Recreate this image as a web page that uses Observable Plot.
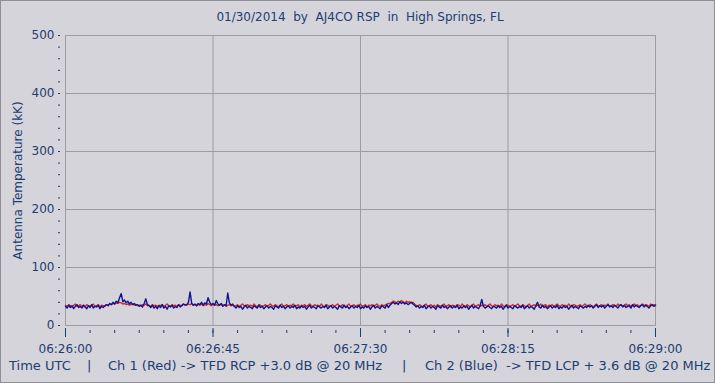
<!DOCTYPE html>
<html>
<head>
<meta charset="utf-8">
<script src="https://cdn.jsdelivr.net/npm/d3@7"></script>
<script src="https://cdn.jsdelivr.net/npm/@observablehq/plot@0.6"></script>
<style>
  html, body { margin: 0; padding: 0; background: #d4d4da; }
  #chart { position: relative; width: 715px; height: 383px; background: #d4d4da; overflow: hidden;
           font-family: "DejaVu Sans", sans-serif; color: #1e3d73; }
  #frame { position: absolute; left: 0; top: 0; width: 713px; height: 381px; border: 1px solid #8e8e94; pointer-events: none; }
  #title { position: absolute; left: 65px; width: 590px; top: 10px; text-align: center; font-size: 12px; white-space: pre; }
  #plot { position: absolute; left: 0; top: 24px; }
  .cap { position: absolute; top: 359px; font-size: 13px; line-height: 13px; white-space: pre; }
</style>
</head>
<body>
<div id="chart">
  <div id="title"></div>
  <div id="plot"></div>
  <div id="caption"></div>
  <div id="frame"></div>
</div>
<script>
const titleText = "01/30/2014  by  AJ4CO RSP  in  High Springs, FL";
const yLabel = "Antenna Temperature (kK)";
const captionParts = [
  {text: "Time UTC", left: 9},
  {text: "|", left: 87},
  {text: "Ch 1 (Red) -> TFD RCP +3.0 dB @ 20 MHz", left: 108},
  {text: "|", left: 402},
  {text: "Ch 2 (Blue)  -> TFD LCP + 3.6 dB @ 20 MHz", left: 425}
];

const startTime = "2014-01-30T06:26:00Z";
const endTime = "2014-01-30T06:29:00Z";
const sampleStepSeconds = 0.5;
const xTickLabels = ["06:26:00", "06:26:45", "06:27:30", "06:28:15", "06:29:00"];
const xMinorSeconds = [0, 7.5, 15, 22.5, 30, 37.5, 45, 52.5, 60, 67.5, 75, 82.5, 90, 97.5, 105, 112.5, 120, 127.5, 135, 142.5, 150, 157.5, 165, 172.5, 180];
const yTicks = [0, 100, 200, 300, 400, 500];
const yMinor = [0, 20, 40, 60, 80, 100, 120, 140, 160, 180, 200, 220, 240, 260, 280, 300, 320, 340, 360, 380, 400, 420, 440, 460, 480, 500];
const yGrid = [100, 200, 300, 400];

// two samples per second, 06:26:00 .. 06:29:00
const ch1Red = [
  35,33,36,34,32,35,37,33,34,36,33,35,32,36,34,33,35,37,33,34,36,32,35,34,33,36,
  35,37,36,38,37,39,38,40,39,37,38,36,37,35,36,37,35,36,34,35,
  34,36,35,37,34,35,33,36,34,35,
  33,35,34,36,33,35,37,34,33,36,34,35,33,36,34,35,37,36,
  35,37,36,38,35,36,
  34,36,35,37,34,36,35,38,36,34,37,35,36,34,35,37,34,36,33,35,36,34,35,33,
  34,36,33,35,37,34,33,36,34,35,33,37,34,32,36,35,33,34,36,33,
  35,37,34,33,36,34,32,35,37,33,34,36,33,35,34,37,33,34,36,32,
  35,34,36,33,35,37,34,33,36,34,35,33,37,34,32,36,35,33,34,36,
  33,35,37,34,33,36,34,32,35,37,33,34,36,33,35,34,37,33,34,36,
  32,35,34,36,33,35,37,34,33,36,34,35,37,38,
  38,40,42,41,39,42,40,43,41,39,42,40,41,39,40,37,
  35,33,36,34,32,35,37,33,34,36,33,35,32,36,34,33,35,37,33,34,
  36,32,35,34,33,36,35,33,37,34,33,36,34,32,35,37,33,34,36,33,
  35,
  34,36,33,35,37,34,33,36,34,35,33,37,34,32,36,35,33,34,36,33,35,37,34,33,36,34,32,35,37,33,34,36,33,
  35,
  34,37,33,35,36,32,35,34,36,33,35,37,34,33,36,34,35,33,37,34,
  32,36,35,33,34,36,33,35,37,34,33,36,34,32,35,37,33,34,36,33,
  35,34,37,33,34,36,35,33,37,34,36,33,35,37,34,36,33,35,37,34,
  36,33,35,37,34,36,35,33,37,34,36,35
];
const ch2Blue = [
  33,30,35,31,34,29,33,36,31,33,30,35,32,29,34,31,36,30,33,32,35,29,33,31,34,36,
  34,38,36,40,37,42,39,48,55,41,44,39,42,37,40,36,38,35,36,33,
  35,32,38,46,36,34,31,35,30,33,
  29,34,31,36,30,33,28,34,32,35,30,33,31,36,32,34,37,35,
  36,40,58,38,35,37,
  34,38,36,40,35,39,37,48,40,36,38,35,43,37,35,38,33,36,34,56,39,35,37,33,
  30,34,31,33,28,32,35,30,33,31,29,34,32,30,35,31,33,29,32,34,
  30,33,31,28,34,32,30,35,31,33,29,32,34,30,33,31,35,29,32,30,
  34,31,33,28,32,35,30,33,31,29,34,32,30,33,31,35,29,32,34,30,
  33,31,28,34,32,30,35,31,33,29,32,34,30,33,31,35,29,32,30,34,
  31,33,28,32,35,30,33,31,29,34,32,30,36,31,
  35,38,40,37,39,36,41,38,40,37,39,36,38,40,37,35,
  32,34,30,33,31,35,29,32,34,30,33,31,28,34,32,30,35,31,33,29,
  32,34,30,33,31,35,29,32,30,34,31,33,28,32,35,30,33,31,29,34,
  45,
  33,30,32,34,31,29,33,32,30,34,31,33,28,32,35,30,33,31,29,34,32,30,33,31,35,29,32,34,30,33,31,28,34,
  40,
  32,30,35,31,33,29,32,34,30,33,31,35,29,32,30,34,31,33,28,32,
  35,30,33,31,29,34,32,30,33,31,35,32,34,30,33,36,31,34,32,35,
  30,33,36,32,34,31,35,33,30,34,36,32,35,31,33,34,30,36,32,35,
  33,31,34,36,32,35,33,30,34,36,33,35
];

const t0 = new Date(startTime);
const toDate = s => new Date(+t0 + s * 1000);
const parseTick = d3.utcParse("%Y-%m-%d %H:%M:%S");
const xTicks = xTickLabels.map(l => parseTick("2014-01-30 " + l));
const xMinor = xMinorSeconds.map(toDate);
const red = ch1Red.map((v, i) => ({t: toDate(i * sampleStepSeconds), v}));
const blue = ch2Blue.map((v, i) => ({t: toDate(i * sampleStepSeconds), v}));

const navy = "#1e3d73";
const gridColor = "#9c9ca2";

document.getElementById("title").textContent = titleText;
const cap = document.getElementById("caption");
for (const p of captionParts) {
  const s = document.createElement("div");
  s.className = "cap";
  s.style.left = p.left + "px";
  s.textContent = p.text;
  cap.appendChild(s);
}

const chart = Plot.plot({
  width: 715,
  height: 334,
  marginLeft: 65,
  marginRight: 60,
  marginTop: 11,
  marginBottom: 33,
  style: {background: "transparent", fontFamily: "DejaVu Sans, sans-serif", fontSize: "12px", color: navy, overflow: "visible"},
  x: {type: "utc", domain: [new Date(startTime), new Date(endTime)]},
  y: {domain: [0, 500]},
  marks: [
    Plot.ruleX(xTicks.slice(1, -1), {stroke: gridColor, strokeWidth: 1}),
    Plot.ruleY(yGrid, {stroke: gridColor, strokeWidth: 1}),
    Plot.frame({stroke: gridColor, strokeWidth: 1}),
    Plot.line(red, {x: "t", y: "v", stroke: "#d42a2a", strokeWidth: 1.4}),
    Plot.line(blue, {x: "t", y: "v", stroke: "#12128c", strokeWidth: 1.4}),
    Plot.axisY({ticks: yMinor, tickSize: 2, text: null, dx: -5, stroke: navy, label: null}),
    Plot.axisY({ticks: yTicks, tickSize: 2, tickPadding: 4, dx: -5, stroke: navy, fill: navy, label: null}),
    Plot.axisY({ticks: [], label: yLabel, labelAnchor: "center", labelArrow: "none", labelOffset: 52, fill: navy}),
    Plot.axisX({ticks: xMinor, tickSize: 3, dy: 5, text: null, stroke: navy, label: null}),
    Plot.axisX({ticks: xTicks, tickSize: 9, dy: 3, tickPadding: 7, tickFormat: d3.utcFormat("%H:%M:%S"), stroke: navy, fill: navy, label: null})
  ]
});
document.getElementById("plot").appendChild(chart);
</script>
</body>
</html>
